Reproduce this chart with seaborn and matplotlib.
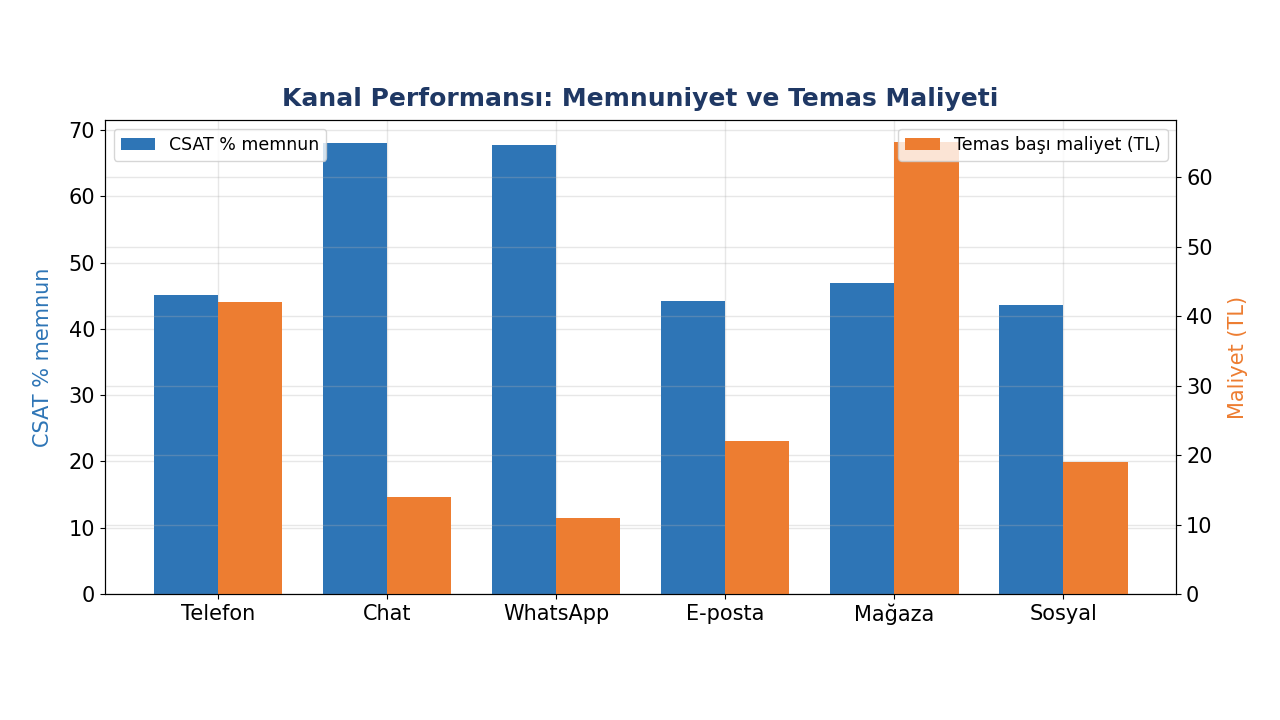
import numpy as np
import matplotlib
matplotlib.use("Agg")
import matplotlib.pyplot as plt
import seaborn as sns

channels = ["Telefon", "Chat", "WhatsApp", "E-posta", "Mağaza", "Sosyal"]
csat = [45.2, 68.0, 67.7, 44.2, 46.9, 43.6]
cost = [42, 14, 11, 22, 65, 19]

blue = "#2E75B6"
orange = "#ED7D31"
csat_name = "CSAT % memnun"
cost_name = "Temas başı maliyet (TL)"

plt.rcParams['font.family'] = ['DejaVu Sans']

fig, ax1 = plt.subplots(figsize=(12.8, 7.2), dpi=100)
ax2 = ax1.twinx()

pos = np.arange(len(channels))
w = 0.38

sns.barplot(x=pos - w / 2, y=csat, native_scale=True, width=w, color=blue,
            saturation=1, ax=ax1, label=csat_name, edgecolor="none")
sns.barplot(x=pos + w / 2, y=cost, native_scale=True, width=w, color=orange,
            saturation=1, ax=ax2, label=cost_name, edgecolor="none")

ax1.set_xticks(pos)
ax1.set_xticklabels(channels)
ax1.set_xlim(-0.668, len(channels) - 1 + 0.668)
ax1.set_ylim(0, 71.5)
ax2.set_ylim(0, 68.2)
ax1.set_ylabel(csat_name, color=blue, fontsize=15, labelpad=11)
ax2.set_ylabel("Maliyet (TL)", color=orange, fontsize=15, labelpad=11)
ax1.tick_params(axis="both", labelsize=15)
ax2.tick_params(axis="y", labelsize=15)

ax1.grid(True, color="#b0b0b0", alpha=0.3, linewidth=1)
ax2.grid(True, axis="y", color="#b0b0b0", alpha=0.3, linewidth=1)
ax1.set_axisbelow(True)
ax2.set_axisbelow(True)

ax1.legend(loc="upper left", fontsize=12.5)
ax2.legend(loc="upper right", fontsize=12.5)

ax1.set_title("Kanal Performansı: Memnuniyet ve Temas Maliyeti",
              fontsize=18, fontweight="bold", color="#1F3864", pad=10)

fig.subplots_adjust(left=0.082, right=0.919, top=0.833, bottom=0.175)
fig.savefig("out.png", dpi=100)
